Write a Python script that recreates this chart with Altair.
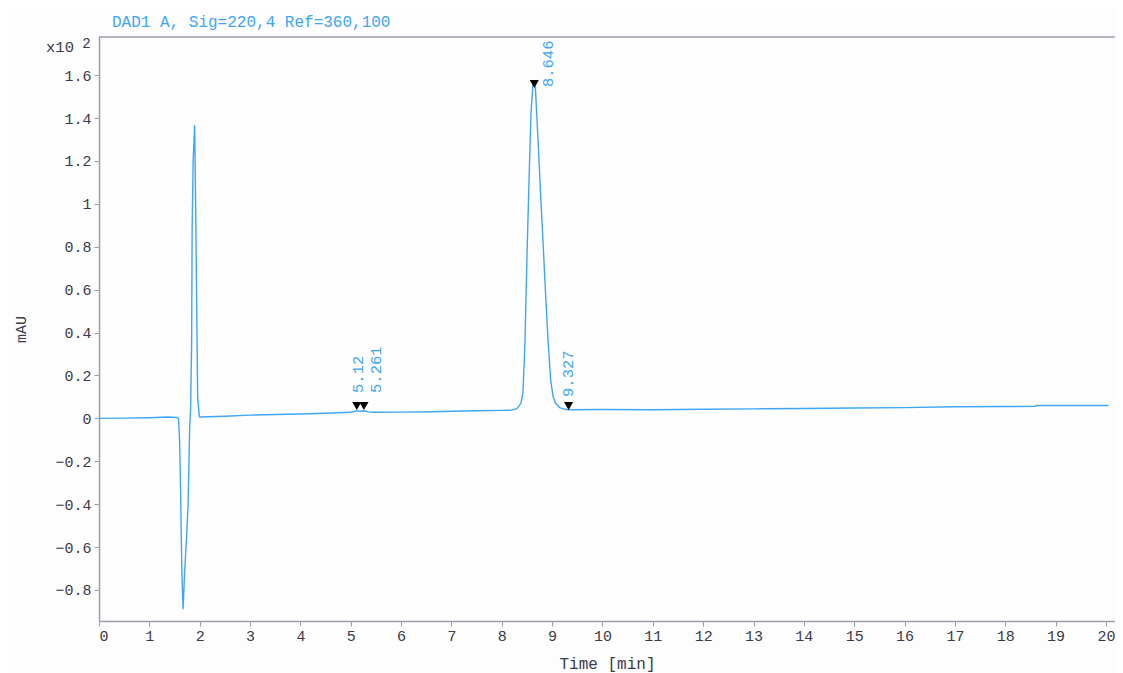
import altair as alt
import pandas as pd

# ---- data (signal in units of x10^2 mAU) ----
time_min = [0.0, 0.5, 1.0, 1.34, 1.55, 1.58, 1.60, 1.62, 1.645, 1.67, 1.70, 1.74, 1.77,
            1.80, 1.82, 1.84, 1.85, 1.87, 1.90, 1.92, 1.94, 1.96, 1.99, 2.0, 2.5, 3.0,
            3.5, 4.0, 4.5, 4.97, 5.08, 5.12, 5.18, 5.261, 5.35, 5.43, 6.0, 6.62, 7.0,
            7.5, 8.0, 8.2, 8.3, 8.38, 8.42, 8.46, 8.50, 8.54, 8.58, 8.62, 8.646, 8.67,
            8.72, 8.77, 8.82, 8.87, 8.92, 8.97, 9.02, 9.07, 9.15, 9.25, 9.327, 10.0,
            11.0, 12.0, 13.0, 14.0, 15.0, 16.0, 17.0, 18.0, 18.6, 18.62, 19.0, 20.05]
signal = [0.0, 0.001, 0.003, 0.006, 0.004, 0.0, -0.10, -0.33, -0.71, -0.89, -0.72, -0.55,
          -0.40, -0.05, 0.05, 0.35, 0.88, 1.20, 1.367, 0.97, 0.54, 0.10, 0.015, 0.006,
          0.010, 0.015, 0.018, 0.020, 0.024, 0.028, 0.032, 0.036, 0.033, 0.035, 0.030,
          0.028, 0.029, 0.031, 0.033, 0.035, 0.037, 0.038, 0.045, 0.07, 0.12, 0.35,
          0.75, 1.10, 1.42, 1.56, 1.568, 1.53, 1.30, 1.05, 0.82, 0.58, 0.36, 0.18, 0.10,
          0.07, 0.05, 0.042, 0.040, 0.041, 0.040, 0.042, 0.044, 0.046, 0.048, 0.050,
          0.054, 0.055, 0.056, 0.060, 0.060, 0.060]

peak_rt = [5.12, 5.261, 8.646, 9.327]
peak_labels = ["5.12", "5.261", "8.646", "9.327"]
peak_tip = [0.039, 0.039, 1.54, 0.039]

x_ticks = list(range(0, 21))
y_ticks = [-0.8, -0.6, -0.4, -0.2, 0, 0.2, 0.4, 0.6, 0.8, 1.0, 1.2, 1.4, 1.6]

title_text = "DAD1 A, Sig=220,4 Ref=360,100"

# ---- styling ----
W, H = 1016, 584
X_MAX = 20.18
Y_MIN, Y_MAX = -0.945, 1.778
BLUE = "#3ea6f4"
AXIS_GRAY = "#9c9cae"
TEXT = "#3a3a48"
MONO = "Liberation Mono"

trace_df = pd.DataFrame({"t": time_min, "v": signal})
peaks_df = pd.DataFrame({"t": peak_rt, "v": peak_tip, "label": peak_labels})

x_scale = alt.Scale(domain=[0, X_MAX], nice=False, zero=False)
y_scale = alt.Scale(domain=[Y_MIN, Y_MAX], nice=False, zero=False)

x_axis = alt.Axis(values=x_ticks, format="d", title="Time [min]", grid=False,
                  labelFont=MONO, labelFontSize=15, labelColor=TEXT, labelPadding=2,
                  titleFont=MONO, titleFontSize=16, titleFontWeight="normal",
                  titleColor=TEXT, titlePadding=12, tickSize=5, tickColor=AXIS_GRAY,
                  domainColor=AXIS_GRAY, domainWidth=1.5)
y_axis = alt.Axis(values=y_ticks, format=".1~f", title="mAU", grid=False,
                  labelFont=MONO, labelFontSize=15, labelColor=TEXT, labelPadding=3,
                  titleFont=MONO, titleFontSize=15, titleFontWeight="normal",
                  titleColor=TEXT, titlePadding=26, tickSize=5, tickColor=AXIS_GRAY,
                  domainColor=AXIS_GRAY, domainWidth=1.5)

line = alt.Chart(trace_df).mark_line(color=BLUE, strokeWidth=1.4, clip=True).encode(
    x=alt.X("t:Q", scale=x_scale, axis=x_axis),
    y=alt.Y("v:Q", scale=y_scale, axis=y_axis),
)

triangles = alt.Chart(peaks_df).mark_point(
    shape="triangle-down", filled=True, color="black", opacity=1, size=85, yOffset=-4
).encode(x="t:Q", y="v:Q")

label_offsets = {"5.12": (17, 1), "5.261": (17, 12), "8.646": (1, 14), "9.327": (13, -1)}
label_layers = []
for lab, (up, right) in label_offsets.items():
    label_layers.append(
        alt.Chart(peaks_df).transform_filter(alt.datum.label == lab).mark_text(
            angle=270, align="left", baseline="middle", dx=up, dy=right,
            font=MONO, fontSize=15.5, color=BLUE
        ).encode(x="t:Q", y="v:Q", text="label:N")
    )

top_border = alt.Chart(pd.DataFrame({"k": [0]})).mark_rule(
    color=AXIS_GRAY, strokeWidth=1.5
).encode(x=alt.value(0), x2=alt.value(W), y=alt.value(0))

header = alt.Chart(pd.DataFrame({"s": [title_text]})).mark_text(
    align="left", baseline="middle", font=MONO, fontSize=16, color=BLUE
).encode(x=alt.value(13), y=alt.value(-15), text="s:N")

scale_txt = alt.Chart(pd.DataFrame({"s": ["x10"]})).mark_text(
    align="center", baseline="middle", font=MONO, fontSize=15.5, color=TEXT
).encode(x=alt.value(-39), y=alt.value(10), text="s:N")

scale_exp = alt.Chart(pd.DataFrame({"s": ["2"]})).mark_text(
    align="center", baseline="middle", font=MONO, fontSize=14, color=TEXT
).encode(x=alt.value(-12.5), y=alt.value(7), text="s:N")

chart = alt.layer(
    line, triangles, *label_layers, top_border, header, scale_txt, scale_exp
).properties(
    width=W, height=H,
    autosize=alt.AutoSizeParams(type="none"),
    padding={"left": 91, "top": 29, "right": 0, "bottom": 52},
    background="#fdfdfd",
).configure_view(stroke=None)

chart.save("out.html", embed_options={"renderer": "svg", "actions": False})
